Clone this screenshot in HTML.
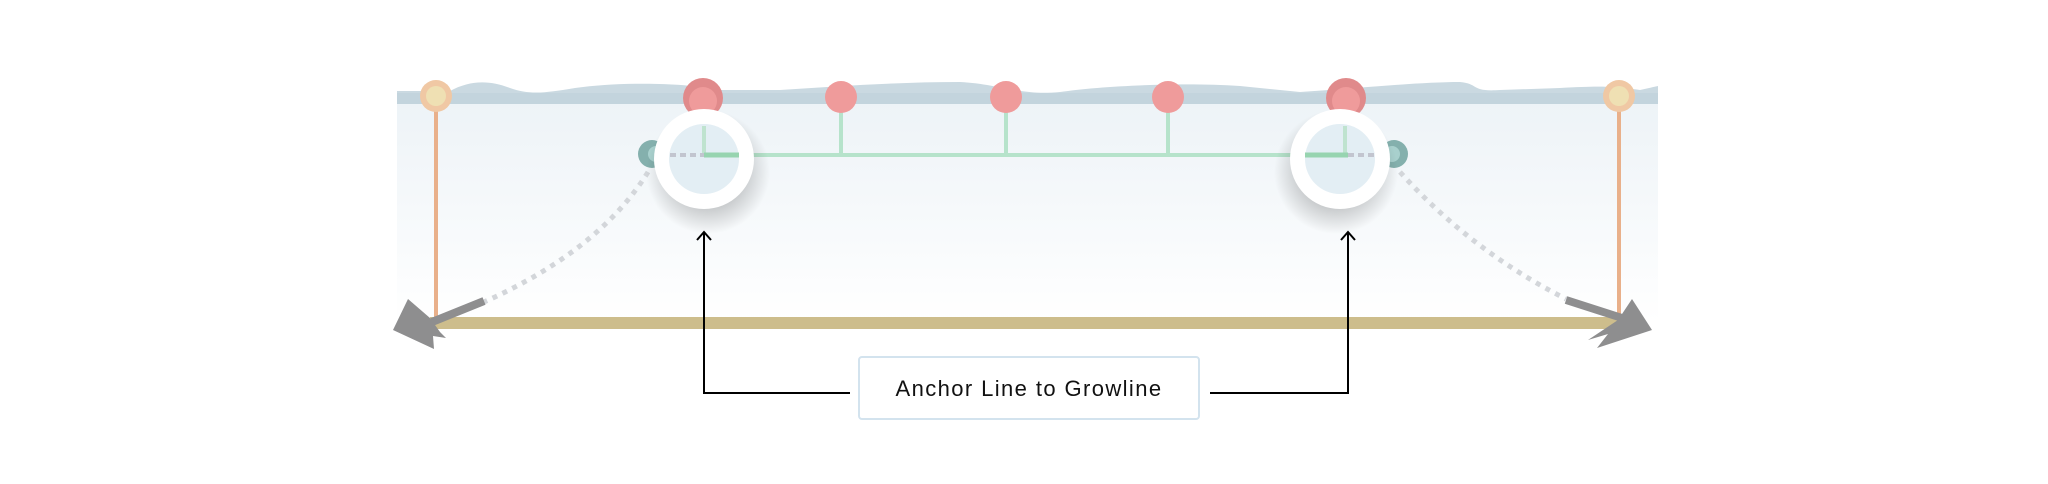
<!DOCTYPE html>
<html><head><meta charset="utf-8"><style>
html,body{margin:0;padding:0;background:#fff;}
svg{display:block;}
</style></head><body>
<svg width="2048" height="484" viewBox="0 0 2048 484" xmlns="http://www.w3.org/2000/svg">
<defs>
<linearGradient id="pg" x1="0" y1="0" x2="0" y2="1">
<stop offset="0" stop-color="#edf3f7"/><stop offset="1" stop-color="#ffffff"/>
</linearGradient>
<radialGradient id="sh" cx="0.5" cy="0.5" r="0.5">
<stop offset="0.5" stop-color="#000" stop-opacity="0.22"/><stop offset="1" stop-color="#000" stop-opacity="0"/>
</radialGradient>
</defs>
<rect x="397" y="102" width="1261" height="220" fill="url(#pg)"/>
<path d="M397 91 L450 91 C470 80 490 80 510 88 C530 95 545 93 575 88 C620 82 680 82 720 90 L780 90 C840 86 900 82 960 82 C1000 84 1020 96 1060 92 C1100 86 1180 82 1240 86 L1300 92 C1360 88 1420 82 1460 82 C1480 84 1470 92 1500 90 L1560 88 C1600 86 1610 86 1640 90 L1658 86 L1658 104 L397 104 Z" fill="#cad9e1"/>
<rect x="397" y="93" width="1261" height="11" fill="#c3d4dd"/>
<!-- beige bar -->
<rect x="430" y="317" width="1192" height="12" fill="#cdbd8c"/>
<!-- orange posts -->
<line x1="436" y1="96" x2="436" y2="320" stroke="#e9b08a" stroke-width="4"/>
<line x1="1619" y1="96" x2="1619" y2="320" stroke="#e9b08a" stroke-width="4"/>
<circle cx="436" cy="96" r="16" fill="#f0c8a4"/><circle cx="436" cy="96" r="10" fill="#efe0b3"/>
<circle cx="1619" cy="96" r="16" fill="#f0c8a4"/><circle cx="1619" cy="96" r="10" fill="#efe0b3"/>
<!-- green line -->
<line x1="704" y1="155" x2="1346" y2="155" stroke="#b6e3cb" stroke-width="4"/>
<line x1="841" y1="98" x2="841" y2="155" stroke="#b6e3cb" stroke-width="4"/>
<line x1="1006" y1="98" x2="1006" y2="155" stroke="#b6e3cb" stroke-width="4"/>
<line x1="1168" y1="98" x2="1168" y2="155" stroke="#b6e3cb" stroke-width="4"/>
<!-- pink nodes -->
<circle cx="841" cy="97" r="16" fill="#ef9b9b"/>
<circle cx="1006" cy="97" r="16" fill="#ef9b9b"/>
<circle cx="1168" cy="97" r="16" fill="#ef9b9b"/>
<circle cx="703" cy="98" r="20" fill="#e08a8b"/><circle cx="703" cy="101" r="14" fill="#ef9b9b"/>
<circle cx="1346" cy="98" r="20" fill="#e08a8b"/><circle cx="1346" cy="101" r="14" fill="#ef9b9b"/>
<!-- teal -->
<circle cx="652" cy="154" r="14" fill="#84b0ad"/><circle cx="656" cy="154" r="8" fill="#a8d0cd"/>
<circle cx="1394" cy="154" r="14" fill="#84b0ad"/><circle cx="1392" cy="154" r="8" fill="#a8d0cd"/>
<!-- dotted curves -->
<path d="M648 172 Q600 250 484 302" fill="none" stroke="#d3d6da" stroke-width="5" stroke-dasharray="5 6"/>
<path d="M1400 172 Q1470 250 1566 299" fill="none" stroke="#d3d6da" stroke-width="5" stroke-dasharray="5 6"/>
<!-- gray arrows -->
<path d="M484 301 L432 322" stroke="#8e8e8f" stroke-width="8" fill="none"/>
<polygon points="393,330 408,299 430,318 440,332 446,338 433,336 434,349" fill="#8e8e8f"/>
<path d="M1566 300 L1622 318" stroke="#8e8e8f" stroke-width="8" fill="none"/>
<polygon points="1652,330 1632,299 1618,320 1588,340 1608,334 1597,348" fill="#8e8e8f"/>
<!-- magnifier rings -->
<circle cx="708" cy="172" r="62" fill="url(#sh)"/>
<circle cx="1336" cy="172" r="62" fill="url(#sh)"/>
<circle cx="704" cy="159" r="50" fill="#fff"/>
<circle cx="704" cy="159" r="35" fill="#e3eef4"/>
<line x1="704" y1="126" x2="704" y2="155" stroke="#bfe3cf" stroke-width="4"/>
<line x1="704" y1="155" x2="739" y2="155" stroke="#97d4b0" stroke-width="5"/>
<line x1="670" y1="155" x2="704" y2="155" stroke="#c2c5cf" stroke-width="4" stroke-dasharray="6 4"/>
<circle cx="1340" cy="159" r="50" fill="#fff"/>
<circle cx="1340" cy="159" r="35" fill="#e3eef4"/>
<line x1="1345" y1="126" x2="1345" y2="155" stroke="#bfe3cf" stroke-width="4"/>
<line x1="1305" y1="155" x2="1348" y2="155" stroke="#97d4b0" stroke-width="5"/>
<line x1="1348" y1="155" x2="1375" y2="155" stroke="#c2c5cf" stroke-width="4" stroke-dasharray="6 4"/>
<!-- connectors -->
<path d="M850 393 L704 393 L704 232" fill="none" stroke="#000" stroke-width="2"/>
<path d="M697 240 L704 232 L711 240" fill="none" stroke="#000" stroke-width="2"/>
<path d="M1210 393 L1348 393 L1348 232" fill="none" stroke="#000" stroke-width="2"/>
<path d="M1341 240 L1348 232 L1355 240" fill="none" stroke="#000" stroke-width="2"/>
<!-- label -->
<rect x="859" y="357" width="340" height="62" rx="3" fill="#fff" stroke="#d3e3ee" stroke-width="2"/>
<text x="1029" y="396" text-anchor="middle" font-family="Liberation Sans, sans-serif" font-size="22" fill="#111" letter-spacing="1.4">Anchor Line to Growline</text>
</svg>
</body></html>
